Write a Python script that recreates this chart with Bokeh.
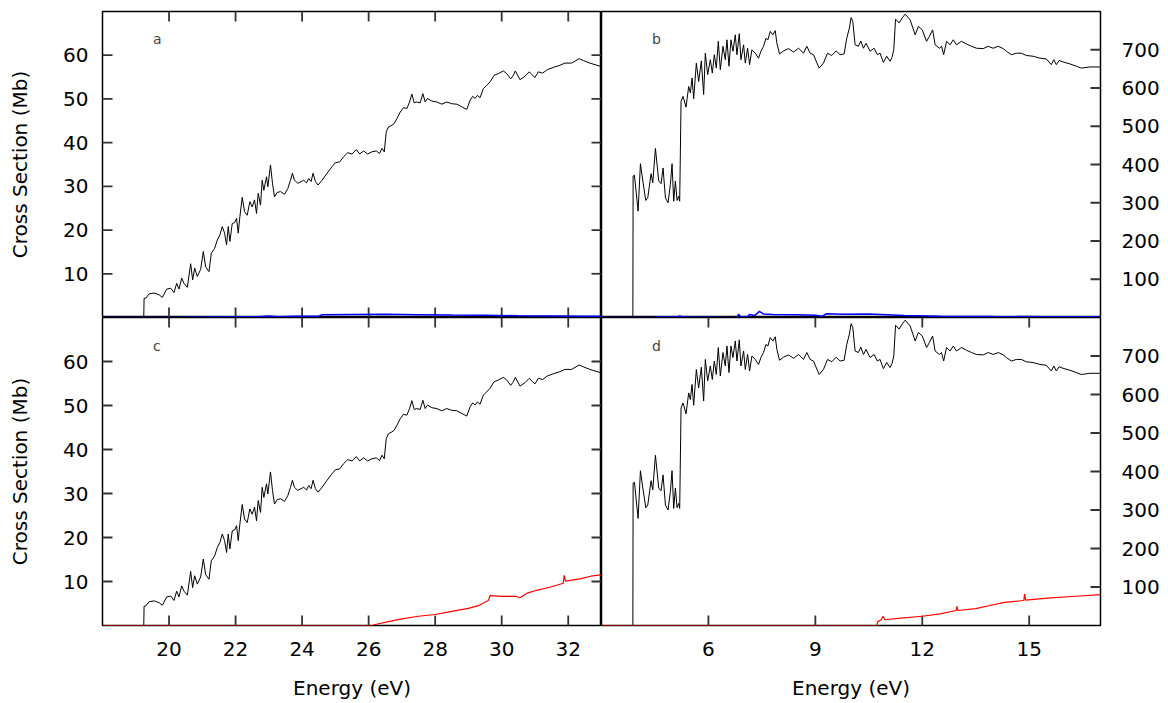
import math
from bokeh.plotting import figure
from bokeh.models import LinearAxis, Range1d, FixedTicker, Label
from bokeh.layouts import column, row
from bokeh.embed import file_html
from bokeh.resources import INLINE

# ---------------- data ----------------
left_black_e = [18.0, 19.24, 19.25, 19.3, 19.4, 19.55, 19.7, 19.8, 19.93, 20.05, 20.15, 20.23, 20.3, 20.38, 20.45, 20.55,
                20.65, 20.71, 20.77, 20.85, 20.95, 21.03, 21.1, 21.2, 21.27, 21.37, 21.45, 21.53, 21.6, 21.67, 21.73,
                21.78, 21.83, 21.9, 21.97, 22.03, 22.08, 22.13, 22.2, 22.27, 22.35, 22.43, 22.5, 22.57, 22.63, 22.68,
                22.75, 22.8, 22.85, 22.93, 22.97, 23.05, 23.11, 23.17, 23.25, 23.35, 23.47, 23.57, 23.65, 23.71, 23.77,
                23.87, 23.97, 24.05, 24.13, 24.2, 24.27, 24.33, 24.4, 24.48, 24.6, 24.75, 24.9, 25.0, 25.13, 25.25,
                25.37, 25.5, 25.63, 25.73, 25.85, 25.97, 26.1, 26.23, 26.33, 26.4, 26.47, 26.53, 26.6, 26.7, 26.77,
                26.85, 26.95, 27.05, 27.15, 27.23, 27.3, 27.37, 27.45, 27.55, 27.63, 27.7, 27.77, 27.9, 28.05, 28.2,
                28.35, 28.5, 28.65, 28.8, 28.95, 29.05, 29.13, 29.2, 29.27, 29.35, 29.45, 29.55, 29.65, 29.77, 29.9,
                30.05, 30.15, 30.27, 30.35, 30.41, 30.55, 30.7, 30.83, 30.9, 31.0, 31.1, 31.23, 31.37, 31.55, 31.75,
                31.9, 32.1, 32.33, 32.45, 32.65, 32.95, 33.0]
left_black_v = [0, 0, 4.4, 4.4, 5.4, 5.6, 5.2, 4.6, 6.5, 6.7, 5.7, 7.8, 6.5, 9.0, 7.8, 6.9, 12.3, 8.6, 11.3, 9.4, 11.0,
                15.1, 11.6, 10.5, 14.7, 15.8, 17.7, 18.9, 20.8, 19.3, 16.6, 20.8, 17.4, 21.5, 21.7, 22.7, 19.3, 23.1,
                27.5, 24.2, 23.4, 26.5, 25.3, 26.9, 23.8, 28.4, 25.7, 31.4, 29.1, 32.2, 29.9, 34.9, 30.7, 27.6, 28.6,
                28.8, 28.2, 29.5, 31.4, 33.0, 31.4, 30.7, 31.1, 31.4, 30.8, 31.8, 31.1, 33.0, 31.1, 30.3, 31.4, 33.0,
                34.5, 35.4, 35.6, 36.8, 37.7, 37.4, 38.4, 37.4, 38.1, 37.4, 37.9, 38.1, 37.5, 38.7, 37.9, 42.5, 43.6,
                44.0, 44.4, 45.5, 47.0, 48.0, 47.8, 49.3, 51.1, 49.1, 49.3, 49.1, 51.2, 49.3, 50.1, 49.5, 49.3, 48.8,
                49.3, 48.9, 48.8, 48.2, 47.6, 49.7, 50.6, 50.1, 50.8, 50.3, 52.4, 53.1, 53.9, 55.4, 55.8, 56.4, 55.8,
                54.6, 55.4, 56.4, 54.4, 55.2, 56.2, 55.6, 54.9, 56.2, 55.9, 56.7, 57.2, 57.7, 58.2, 58.2, 59.2, 58.8,
                58.2, 57.5, 57.3]

left_blue_e = [18.0, 20.5, 21.5, 22.7, 23.0, 23.3, 23.8, 24.5, 24.6, 25.5, 26.5, 27.5, 28.5, 29.5, 30.5, 31.5, 32.5, 33.0]
left_blue_v = [0, 0.05, 0.1, 0.15, 0.35, 0.15, 0.3, 0.3, 0.65, 0.7, 0.75, 0.65, 0.55, 0.5, 0.4, 0.35, 0.3, 0.3]

left_red_e = [18.0, 26.1, 26.3, 26.6, 27.0, 27.5, 28.0, 28.5, 29.0, 29.3, 29.6, 29.65, 30.05, 30.45, 30.55, 30.75,
              31.05, 31.45, 31.85, 31.88, 31.92, 32.35, 32.68, 33.0]
left_red_v = [0, 0, 0.4, 0.9, 1.5, 2.1, 2.5, 3.2, 3.9, 4.5, 5.7, 6.8, 6.6, 6.6, 6.3, 7.3, 8.0, 8.7, 9.6, 11.4, 10.1,
              10.6, 11.2, 11.5]

right_black_e = [3.0, 3.88, 3.887, 3.924, 4.027, 4.092, 4.167, 4.242, 4.298, 4.391,
                 4.438, 4.513, 4.606, 4.671, 4.727, 4.793, 4.867, 4.933, 4.979, 5.026,
                 5.073, 5.120, 5.166, 5.194, 5.232, 5.288, 5.372, 5.446, 5.493, 5.540,
                 5.586, 5.661, 5.726, 5.801, 5.866, 5.913, 5.979, 6.053, 6.109, 6.165,
                 6.221, 6.277, 6.333, 6.408, 6.473, 6.520, 6.576, 6.632, 6.688, 6.754,
                 6.800, 6.866, 6.912, 6.987, 7.034, 7.099, 7.155, 7.220, 7.314, 7.407,
                 7.472, 7.547, 7.613, 7.669, 7.734, 7.809, 7.874, 7.921, 7.995, 8.107,
                 8.247, 8.388, 8.528, 8.668, 8.761, 8.854, 8.948, 9.106, 9.228, 9.340,
                 9.461, 9.583, 9.695, 9.807, 9.881, 9.956, 10.003, 10.050, 10.115, 10.208,
                 10.274, 10.349, 10.423, 10.535, 10.647, 10.740, 10.815, 10.909, 11.002, 11.095,
                 11.15, 11.2, 11.25, 11.35, 11.45, 11.52, 11.66, 11.8, 11.89, 12.0,
                 12.12, 12.2, 12.29, 12.36, 12.48, 12.54, 12.6, 12.68, 12.78, 12.87,
                 12.96, 13.1, 13.24, 13.38, 13.52, 13.71, 13.85, 13.99, 14.13, 14.27,
                 14.36, 14.5, 14.64, 14.78, 14.92, 15.11, 15.3, 15.48, 15.62, 15.69,
                 15.76, 15.84, 15.95, 16.14, 16.32, 16.46, 16.7, 17.0]
right_black_v = [0, 0, 370, 372, 278, 402, 352, 306, 313, 376,
                 352, 442, 357, 350, 391, 313, 300, 348, 402, 304,
                 357, 306, 317, 304, 565, 578, 550, 604, 587, 626,
                 572, 665, 617, 671, 583, 691, 635, 674, 639, 687,
                 652, 722, 648, 709, 674, 726, 657, 726, 696, 739,
                 687, 742, 674, 713, 665, 704, 661, 700, 691, 678,
                 696, 709, 730, 726, 748, 739, 750, 717, 689, 697,
                 703, 694, 704, 691, 709, 691, 687, 652, 665, 691,
                 685, 697, 687, 689, 730, 757, 784, 774, 713, 709,
                 723, 704, 717, 696, 704, 687, 691, 667, 683, 670,
                 680, 700, 780, 770, 785, 793, 778, 739, 761, 752,
                 722, 735, 752, 713, 704, 709, 687, 722, 713, 726,
                 713, 722, 715, 709, 704, 703, 709, 704, 709, 703,
                 696, 687, 691, 691, 685, 683, 678, 676, 661, 674,
                 661, 672, 668, 663, 657, 652, 655, 655]

right_blue_e = [3.0, 4.5, 4.6, 5.1, 5.2, 5.3, 6.5, 6.8, 6.85, 6.9, 7.1, 7.15, 7.3, 7.43, 7.55, 7.8, 8.5, 9.0, 9.2,
                9.3, 9.8, 10.5, 11.0, 11.5, 12.5, 14.0, 15.5, 17.0]
right_blue_v = [0, 0, 1, 1, 4, 1, 0, 0, 9, 1, 2, 8, 5, 16, 9, 8, 7, 6, 3.5, 9.5, 8.5, 9, 7, 5, 3.5, 2.5, 2, 2]

right_red_e = [3.0, 10.72, 10.75, 10.85, 10.9, 10.95, 11.4, 12.0, 12.5, 12.95, 12.97, 13.0, 13.5, 13.9, 14.3, 14.85,
               14.87, 14.9, 15.6, 16.3, 17.0]
right_red_v = [0, 0, 10, 15, 24, 15, 19, 24, 30, 39, 50, 39, 44, 52, 60, 65, 82, 66, 72, 76, 80]

left_x_range = (18, 33)
right_x_range = (3, 17)
left_y_range = (0, 70)
right_y_range = (0, 800)
left_x_ticks = [20, 22, 24, 26, 28, 30, 32]
right_x_ticks = [6, 9, 12, 15]
left_y_ticks = [10, 20, 30, 40, 50, 60]
right_y_ticks = [100, 200, 300, 400, 500, 600, 700]
panel_letters = ["a", "b", "c", "d"]

FONT = "DejaVu Sans"
TICK_COLOR = "#333333"
TICK_W = 1.8
TICK_LEN = 10      # pixels


def make_fig(xr, yr, w, h, bl, br, bt, bb):
    p = figure(width=w, height=h, x_range=Range1d(*xr), y_range=Range1d(*yr),
               output_backend="svg", toolbar_location=None,
               x_axis_location=None, y_axis_location=None,
               min_border_left=bl, min_border_right=br, min_border_top=bt, min_border_bottom=bb)
    p.grid.visible = False
    p.outline_line_color = "black"
    p.outline_line_width = 1.5
    p.background_fill_color = "white"
    p.border_fill_color = "white"
    return p


def add_axis(p, side, ticks, standoff=14, title=None, title_standoff=10):
    ax = LinearAxis(ticker=FixedTicker(ticks=ticks, minor_ticks=[]))
    ax.major_tick_in = 0
    ax.major_tick_out = 0
    ax.minor_tick_in = 0
    ax.minor_tick_out = 0
    ax.axis_line_color = None
    ax.major_label_text_font = FONT
    ax.major_label_text_font_size = "20px"
    ax.major_label_text_color = "black"
    ax.major_label_standoff = standoff
    if title:
        ax.axis_label = title
        ax.axis_label_text_font = FONT
        ax.axis_label_text_font_size = "20px"
        ax.axis_label_text_font_style = "normal"
        ax.axis_label_text_color = "black"
        ax.axis_label_standoff = title_standoff
    p.add_layout(ax, side)
    return ax


def inner_ticks(p, side, ticks, xr, yr):
    """Inward tick marks drawn as short screen-length rays from the frame edge."""
    n = len(ticks)
    kw = dict(length=TICK_LEN, length_units="screen", line_color=TICK_COLOR, line_width=TICK_W)
    if side == "left":
        p.ray(x=[xr[0]] * n, y=ticks, angle=0.0, **kw)
    elif side == "right":
        p.ray(x=[xr[1]] * n, y=ticks, angle=math.pi, **kw)
    elif side == "bottom":
        p.ray(x=ticks, y=[yr[0]] * n, angle=math.pi / 2, **kw)
    elif side == "top":
        p.ray(x=ticks, y=[yr[1]] * n, angle=-math.pi / 2, **kw)


# panel a
pa = make_fig(left_x_range, left_y_range, 601, 317, 102, 0, 11, 0)
for s in ("left", "right"):
    inner_ticks(pa, s, left_y_ticks, left_x_range, left_y_range)
for s in ("top", "bottom"):
    inner_ticks(pa, s, left_x_ticks, left_x_range, left_y_range)
pa.line(left_black_e, left_black_v, line_color="black", line_width=1)
pa.line(left_blue_e, left_blue_v, line_color="blue", line_width=1.5)
add_axis(pa, "left", left_y_ticks, standoff=14, title="Cross Section (Mb)", title_standoff=28)
pa.add_layout(Label(x=19.52, y=61.8, text=panel_letters[0], text_font=FONT, text_font_size="14px"))

# panel b
pb = make_fig(right_x_range, right_y_range, 567, 317, 0, 68, 11, 0)
inner_ticks(pb, "right", right_y_ticks, right_x_range, right_y_range)
pb.line(right_black_e, right_black_v, line_color="black", line_width=1)
pb.line(right_blue_e, right_blue_v, line_color="blue", line_width=1.5)
add_axis(pb, "right", right_y_ticks, standoff=21)
pb.add_layout(Label(x=4.42, y=706.7, text=panel_letters[1], text_font=FONT, text_font_size="14px"))

# panel c
pc = make_fig(left_x_range, left_y_range, 601, 386, 102, 0, 0, 78)
for s in ("left", "right"):
    inner_ticks(pc, s, left_y_ticks, left_x_range, left_y_range)
for s in ("top", "bottom"):
    inner_ticks(pc, s, left_x_ticks, left_x_range, left_y_range)
pc.line(left_black_e, left_black_v, line_color="black", line_width=1)
pc.line(left_red_e, left_red_v, line_color="red", line_width=1.2)
add_axis(pc, "left", left_y_ticks, standoff=14, title="Cross Section (Mb)", title_standoff=28)
add_axis(pc, "below", left_x_ticks, standoff=16, title="Energy (eV)", title_standoff=17)
pc.add_layout(Label(x=19.52, y=61.75, text=panel_letters[2], text_font=FONT, text_font_size="14px"))

# panel d
pd_ = make_fig(right_x_range, right_y_range, 567, 386, 0, 68, 0, 78)
inner_ticks(pd_, "right", right_y_ticks, right_x_range, right_y_range)
for s in ("top", "bottom"):
    inner_ticks(pd_, s, right_x_ticks, right_x_range, right_y_range)
pd_.line(right_black_e, right_black_v, line_color="black", line_width=1)
pd_.line(right_red_e, right_red_v, line_color="red", line_width=1.2)
add_axis(pd_, "right", right_y_ticks, standoff=21)
add_axis(pd_, "below", right_x_ticks, standoff=16, title="Energy (eV)", title_standoff=17)
pd_.add_layout(Label(x=4.42, y=705.7, text=panel_letters[3], text_font=FONT, text_font_size="14px"))

layout = column(row(pa, pb, spacing=0), row(pc, pd_, spacing=0), spacing=0)

open("out.html", "w").write(file_html(layout, INLINE))
